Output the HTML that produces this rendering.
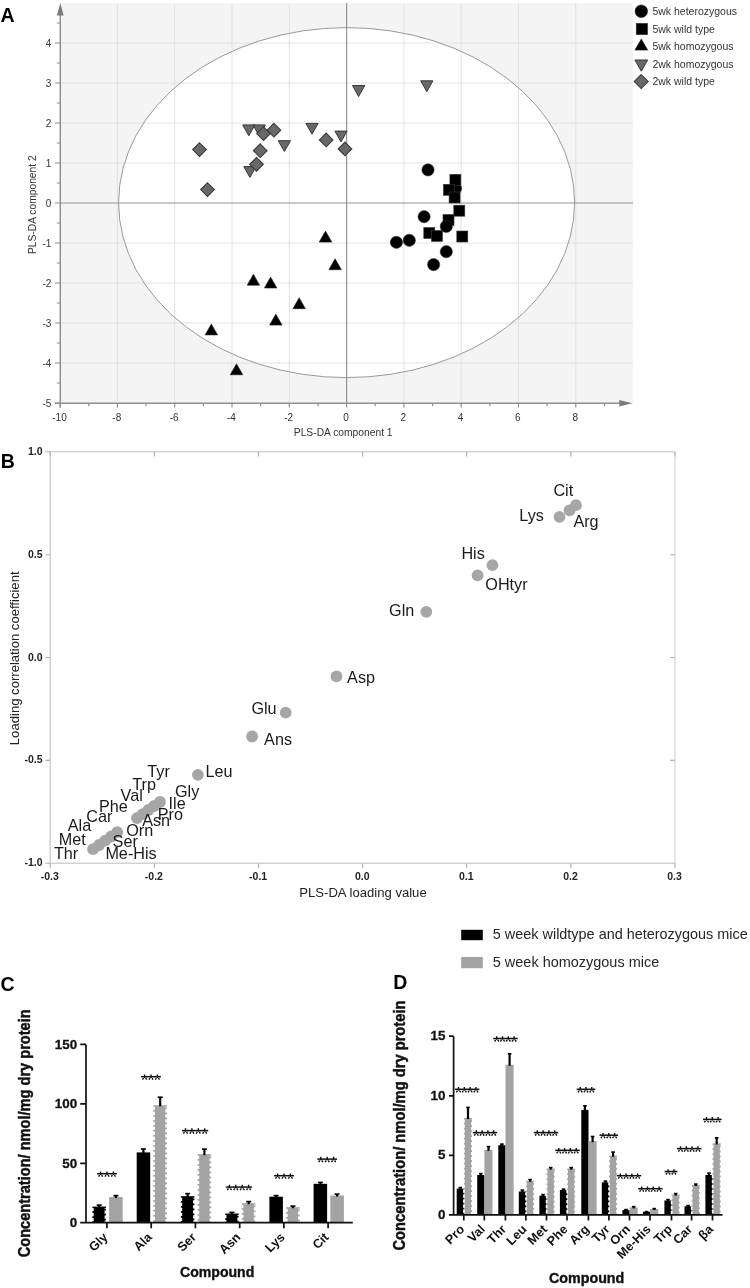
<!DOCTYPE html>
<html><head><meta charset="utf-8"><style>
html,body{margin:0;padding:0;background:#fff;}
body{width:750px;height:1288px;overflow:hidden;position:relative;}
svg{position:absolute;left:0;top:0;display:block;filter:grayscale(100%);}
</style></head><body>
<svg width="750" height="1288" viewBox="0 0 750 1288">
<rect x="60.3" y="3.0" width="572.7" height="400.2" fill="#f4f4f4"/>
<ellipse cx="346.6" cy="202.6" rx="228" ry="175" fill="#ffffff"/>
<path d="M117.4 3.0V403.2M174.7 3.0V403.2M232.0 3.0V403.2M289.3 3.0V403.2M403.9 3.0V403.2M461.2 3.0V403.2M518.5 3.0V403.2M575.8 3.0V403.2M60.3 43.0H633.0M60.3 83.0H633.0M60.3 123.0H633.0M60.3 163.0H633.0M60.3 243.0H633.0M60.3 283.0H633.0M60.3 323.0H633.0M60.3 363.0H633.0" stroke="#e2e2e2" stroke-width="1" fill="none"/>
<ellipse cx="346.6" cy="202.6" rx="228" ry="175" fill="none" stroke="#999" stroke-width="1"/>
<path d="M346.6 3.0V403.2M60.3 203.0H633.0" stroke="#939393" stroke-width="1.2" fill="none"/>
<path d="M60.3 14V407.6M55 403.2H621" stroke="#909090" stroke-width="1.5" fill="none"/>
<polygon points="60.3,3 56.9,15.6 63.699999999999996,15.6" fill="#7a7a7a"/>
<polygon points="632.3,403.2 619.3,400.0 619.3,406.4" fill="#7a7a7a"/>
<path d="M55 403.0H60.3M56.8 383.0H60.3M55 363.0H60.3M56.8 343.0H60.3M55 323.0H60.3M56.8 303.0H60.3M55 283.0H60.3M56.8 263.0H60.3M55 243.0H60.3M56.8 223.0H60.3M55 203.0H60.3M56.8 183.0H60.3M55 163.0H60.3M56.8 143.0H60.3M55 123.0H60.3M56.8 103.0H60.3M55 83.0H60.3M56.8 63.0H60.3M55 43.0H60.3M56.8 23.0H60.3M60.1 403.2V407.6M88.8 403.2V406.2M117.4 403.2V407.6M146.1 403.2V406.2M174.7 403.2V407.6M203.4 403.2V406.2M232.0 403.2V407.6M260.7 403.2V406.2M289.3 403.2V407.6M318.0 403.2V406.2M346.6 403.2V407.6M375.2 403.2V406.2M403.9 403.2V407.6M432.6 403.2V406.2M461.2 403.2V407.6M489.9 403.2V406.2M518.5 403.2V407.6M547.1 403.2V406.2M575.8 403.2V407.6M604.5 403.2V406.2" stroke="#909090" stroke-width="1.2" fill="none"/>
<g font-family='"Liberation Sans", sans-serif' font-size="10" fill="#333">
<text x="51.3" y="407.2" text-anchor="end">-5</text>
<text x="51.3" y="367.2" text-anchor="end">-4</text>
<text x="51.3" y="327.2" text-anchor="end">-3</text>
<text x="51.3" y="287.2" text-anchor="end">-2</text>
<text x="51.3" y="247.2" text-anchor="end">-1</text>
<text x="51.3" y="207.2" text-anchor="end">0</text>
<text x="51.3" y="167.2" text-anchor="end">1</text>
<text x="51.3" y="127.2" text-anchor="end">2</text>
<text x="51.3" y="87.2" text-anchor="end">3</text>
<text x="51.3" y="47.2" text-anchor="end">4</text>
<text x="59.5" y="420.9" text-anchor="middle">-10</text>
<text x="116.8" y="420.9" text-anchor="middle">-8</text>
<text x="174.1" y="420.9" text-anchor="middle">-6</text>
<text x="231.4" y="420.9" text-anchor="middle">-4</text>
<text x="288.7" y="420.9" text-anchor="middle">-2</text>
<text x="346.0" y="420.9" text-anchor="middle">0</text>
<text x="403.3" y="420.9" text-anchor="middle">2</text>
<text x="460.6" y="420.9" text-anchor="middle">4</text>
<text x="517.9" y="420.9" text-anchor="middle">6</text>
<text x="575.2" y="420.9" text-anchor="middle">8</text>
</g>
<text x="293.8" y="435.8" font-family='"Liberation Sans", sans-serif' font-size="10.3" fill="#333" textLength="98.8" lengthAdjust="spacingAndGlyphs">PLS-DA component 1</text>
<text transform="translate(36.3,254.1) rotate(-90)" x="0" y="0" font-family='"Liberation Sans", sans-serif' font-size="10.4" fill="#333" textLength="98.8" lengthAdjust="spacingAndGlyphs">PLS-DA component 2</text>
<text x="0.5" y="22" font-family='"Liberation Sans", sans-serif' font-size="19.5" font-weight="bold" fill="#000">A</text>
<polygon points="242.7,124.9 255.0,124.9 248.8,135.8" fill="#686868" stroke="#383838" stroke-width="1.0" stroke-linejoin="round"/>
<polygon points="253.0,124.9 265.3,124.9 259.2,135.8" fill="#686868" stroke="#383838" stroke-width="1.0" stroke-linejoin="round"/>
<polygon points="243.8,166.6 256.1,166.6 249.9,177.4" fill="#686868" stroke="#383838" stroke-width="1.0" stroke-linejoin="round"/>
<polygon points="278.2,140.7 290.5,140.7 284.4,151.5" fill="#686868" stroke="#383838" stroke-width="1.0" stroke-linejoin="round"/>
<polygon points="305.9,123.4 318.1,123.4 312.0,134.2" fill="#686868" stroke="#383838" stroke-width="1.0" stroke-linejoin="round"/>
<polygon points="334.9,131.1 347.1,131.1 341.0,141.9" fill="#686868" stroke="#383838" stroke-width="1.0" stroke-linejoin="round"/>
<polygon points="352.5,85.5 364.8,85.5 358.6,96.5" fill="#686868" stroke="#383838" stroke-width="1.0" stroke-linejoin="round"/>
<polygon points="420.7,80.8 432.9,80.8 426.8,91.7" fill="#686868" stroke="#383838" stroke-width="1.0" stroke-linejoin="round"/>
<polygon points="199.5,142.75000000000003 206.35,149.60000000000002 199.5,156.45000000000002 192.65,149.60000000000002" fill="#686868" stroke="#383838" stroke-width="1.05"/>
<polygon points="207.5,182.75000000000003 214.35,189.60000000000002 207.5,196.45000000000002 200.65,189.60000000000002" fill="#686868" stroke="#383838" stroke-width="1.05"/>
<polygon points="263.5,126.75000000000003 270.35,133.60000000000002 263.5,140.45000000000002 256.65,133.60000000000002" fill="#686868" stroke="#383838" stroke-width="1.05"/>
<polygon points="273.9,123.35000000000002 280.75,130.20000000000002 273.9,137.05 267.04999999999995,130.20000000000002" fill="#686868" stroke="#383838" stroke-width="1.05"/>
<polygon points="260.2,143.85000000000002 267.05,150.70000000000002 260.2,157.55 253.35,150.70000000000002" fill="#686868" stroke="#383838" stroke-width="1.05"/>
<polygon points="256.5,157.45000000000002 263.35,164.3 256.5,171.15 249.65,164.3" fill="#686868" stroke="#383838" stroke-width="1.05"/>
<polygon points="326.2,133.05 333.05,139.9 326.2,146.75 319.34999999999997,139.9" fill="#686868" stroke="#383838" stroke-width="1.05"/>
<polygon points="345,142.05 351.85,148.9 345,155.75 338.15,148.9" fill="#686868" stroke="#383838" stroke-width="1.05"/>
<polygon points="319.2,242.1 331.8,242.1 325.5,231.1" fill="#000" stroke="#222" stroke-width="0.6"/>
<polygon points="328.9,269.7 341.4,269.7 335.1,258.7" fill="#000" stroke="#222" stroke-width="0.6"/>
<polygon points="247.2,285.2 259.6,285.2 253.4,274.2" fill="#000" stroke="#222" stroke-width="0.6"/>
<polygon points="264.4,288.0 276.9,288.0 270.6,277.0" fill="#000" stroke="#222" stroke-width="0.6"/>
<polygon points="292.9,308.7 305.4,308.7 299.2,297.7" fill="#000" stroke="#222" stroke-width="0.6"/>
<polygon points="269.6,325.1 282.1,325.1 275.8,314.1" fill="#000" stroke="#222" stroke-width="0.6"/>
<polygon points="205.1,334.9 217.6,334.9 211.3,323.9" fill="#000" stroke="#222" stroke-width="0.6"/>
<polygon points="230.2,374.8 242.8,374.8 236.5,363.8" fill="#000" stroke="#222" stroke-width="0.6"/>
<circle cx="455.5" cy="188.5" r="6.1" fill="#000" stroke="#333" stroke-width="0.6"/>
<rect x="449.9" y="174.3" width="11" height="11" fill="#000" stroke="#3a3a3a" stroke-width="0.6"/>
<rect x="443.4" y="184.3" width="11" height="11" fill="#000" stroke="#3a3a3a" stroke-width="0.6"/>
<rect x="449.1" y="192.0" width="11" height="11" fill="#000" stroke="#3a3a3a" stroke-width="0.6"/>
<rect x="453.8" y="205.2" width="11" height="11" fill="#000" stroke="#3a3a3a" stroke-width="0.6"/>
<rect x="443.0" y="214.5" width="11" height="11" fill="#000" stroke="#3a3a3a" stroke-width="0.6"/>
<rect x="423.8" y="227.5" width="11" height="11" fill="#000" stroke="#3a3a3a" stroke-width="0.6"/>
<rect x="431.5" y="230.4" width="11" height="11" fill="#000" stroke="#3a3a3a" stroke-width="0.6"/>
<rect x="456.8" y="231.0" width="11" height="11" fill="#000" stroke="#3a3a3a" stroke-width="0.6"/>
<circle cx="428" cy="169.9" r="6.1" fill="#000" stroke="#333" stroke-width="0.6"/>
<circle cx="424.1" cy="216.7" r="6.1" fill="#000" stroke="#333" stroke-width="0.6"/>
<circle cx="446.3" cy="226.4" r="6.1" fill="#000" stroke="#333" stroke-width="0.6"/>
<circle cx="409.3" cy="240.3" r="6.1" fill="#000" stroke="#333" stroke-width="0.6"/>
<circle cx="396.4" cy="242.3" r="6.1" fill="#000" stroke="#333" stroke-width="0.6"/>
<circle cx="446.3" cy="251.7" r="6.1" fill="#000" stroke="#333" stroke-width="0.6"/>
<circle cx="433.6" cy="264.6" r="6.1" fill="#000" stroke="#333" stroke-width="0.6"/>
<circle cx="641.3" cy="11.2" r="6.3" fill="#000" stroke="#333" stroke-width="0.6"/>
<rect x="636.2" y="23.3" width="11.4" height="11.4" fill="#000" stroke="#3a3a3a" stroke-width="0.6"/>
<polygon points="634.9,50.1 647.7,50.1 641.3,38.9" fill="#000" stroke="#222" stroke-width="0.6"/>
<polygon points="634.9,60.0 647.7,60.0 641.3,71.2" fill="#686868" stroke="#383838" stroke-width="1.0" stroke-linejoin="round"/>
<polygon points="641.2,74.5 648.2,81.5 641.2,88.5 634.2,81.5" fill="#686868" stroke="#383838" stroke-width="1.05"/>
<g font-family='"Liberation Sans", sans-serif' font-size="10.5" fill="#333">
<text x="652.4" y="15.2">5wk heterozygous</text>
<text x="652.4" y="32.8">5wk wild type</text>
<text x="652.4" y="50.1">5wk homozygous</text>
<text x="652.4" y="67.9">2wk homozygous</text>
<text x="652.4" y="85.0">2wk wild type</text>
</g>
<text x="0.8" y="467.6" font-family='"Liberation Sans", sans-serif' font-size="19.5" font-weight="bold" fill="#000">B</text>
<path d="M50.2 451.8H675.0" stroke="#d6d6d6" stroke-width="1.5"/>
<path d="M675.0 451.8V863.2" stroke="#d4d4d4" stroke-width="1.1"/>
<path d="M50.2 451.1V863.9M49.5 863.2H675.5" stroke="#d2d2d2" stroke-width="1.5"/>
<path d="M45.4 863.2H50.2M45.4 760.4H50.2M670.2 760.4H675.0M45.4 657.5H50.2M670.2 657.5H675.0M45.4 554.7H50.2M670.2 554.7H675.0M45.4 451.8H50.2M50.2 863.2V868.0M50.2 451.8V456.6M154.3 863.2V868.0M154.3 451.8V456.6M258.5 863.2V868.0M258.5 451.8V456.6M362.6 863.2V868.0M362.6 451.8V456.6M466.7 863.2V868.0M466.7 451.8V456.6M570.9 863.2V868.0M570.9 451.8V456.6M675.0 863.2V868.0M675.0 451.8V456.6" stroke="#b0b0b0" stroke-width="1.1" fill="none"/>
<g font-family='"Liberation Sans", sans-serif' font-size="10.5" font-weight="bold" fill="#222">
<text x="42.5" y="866.2" text-anchor="end">-1.0</text>
<text x="42.5" y="763.4" text-anchor="end">-0.5</text>
<text x="42.5" y="660.5" text-anchor="end">0.0</text>
<text x="42.5" y="557.7" text-anchor="end">0.5</text>
<text x="42.5" y="454.8" text-anchor="end">1.0</text>
<text x="49.8" y="879.6" text-anchor="middle">-0.3</text>
<text x="153.9" y="879.6" text-anchor="middle">-0.2</text>
<text x="258.1" y="879.6" text-anchor="middle">-0.1</text>
<text x="362.2" y="879.6" text-anchor="middle">0.0</text>
<text x="466.3" y="879.6" text-anchor="middle">0.1</text>
<text x="570.5" y="879.6" text-anchor="middle">0.2</text>
<text x="674.6" y="879.6" text-anchor="middle">0.3</text>
</g>
<text x="363" y="896.5" font-family='"Liberation Sans", sans-serif' font-size="13.1" fill="#222" text-anchor="middle">PLS-DA loading value</text>
<text transform="translate(19.2,658.3) rotate(-90)" x="0" y="0" font-family='"Liberation Sans", sans-serif' font-size="13.1" fill="#222" text-anchor="middle">Loading correlation coefficient</text>
<g fill="#a6a6a6">
<circle cx="559.5" cy="516.9" r="5.9"/>
<circle cx="569.6" cy="510.3" r="5.9"/>
<circle cx="576.0" cy="505.2" r="5.9"/>
<circle cx="492.4" cy="565.1" r="5.9"/>
<circle cx="477.6" cy="575.4" r="5.9"/>
<circle cx="426.3" cy="611.8" r="5.9"/>
<circle cx="336.5" cy="676.4" r="5.9"/>
<circle cx="285.7" cy="712.6" r="5.9"/>
<circle cx="252.1" cy="736.5" r="5.9"/>
<circle cx="197.9" cy="774.8" r="5.9"/>
<circle cx="136.9" cy="818.1" r="5.9"/>
<circle cx="142.7" cy="814.1" r="5.9"/>
<circle cx="148.4" cy="810.0" r="5.9"/>
<circle cx="154.2" cy="806.0" r="5.9"/>
<circle cx="160.0" cy="802.0" r="5.9"/>
<circle cx="93.1" cy="849.2" r="5.9"/>
<circle cx="99.1" cy="845.0" r="5.9"/>
<circle cx="105.2" cy="840.7" r="5.9"/>
<circle cx="111.2" cy="836.5" r="5.9"/>
<circle cx="117.2" cy="832.2" r="5.9"/>
</g>
<g font-family='"Liberation Sans", sans-serif' font-size="16.2" fill="#1a1a1a">
<text x="553.4" y="495.8">Cit</text>
<text x="519.3" y="521.4">Lys</text>
<text x="573.4" y="527.0">Arg</text>
<text x="461.4" y="558.8">His</text>
<text x="485.3" y="589.9">OHtyr</text>
<text x="389.1" y="616.1">Gln</text>
<text x="347.1" y="683.0">Asp</text>
<text x="251.4" y="714.3">Glu</text>
<text x="264.1" y="744.6">Ans</text>
<text x="205.4" y="777.1">Leu</text>
<text x="147.3" y="777.4">Tyr</text>
<text x="132.3" y="790.2">Trp</text>
<text x="120.6" y="800.6">Val</text>
<text x="175.0" y="797.1">Gly</text>
<text x="168.6" y="809.4">Ile</text>
<text x="157.7" y="820.1">Pro</text>
<text x="142.2" y="826.2">Asn</text>
<text x="126.2" y="836.4">Orn</text>
<text x="99.0" y="811.8">Phe</text>
<text x="86.2" y="822.2">Car</text>
<text x="67.8" y="831.0">Ala</text>
<text x="58.7" y="844.6">Met</text>
<text x="53.9" y="859.0">Thr</text>
<text x="112.6" y="846.5">Ser</text>
<text x="105.4" y="859.0">Me-His</text>
</g>
<text x="0.6" y="991.3" font-family='"Liberation Sans", sans-serif' font-size="19.5" font-weight="bold" fill="#000">C</text>
<text transform="translate(30.1,1257.3) rotate(-90)" font-family='"Liberation Sans", sans-serif' font-size="16" font-weight="bold" fill="#111" stroke="#111" stroke-width="0.45" textLength="248" lengthAdjust="spacingAndGlyphs">Concentration/ nmol/mg dry protein</text>
<rect x="92.4" y="1206.6" width="13.5" height="16.1" fill="#000"/><path d="M92.65 1208.1V1221.7" stroke="#fff" stroke-width="2.1" stroke-dasharray="3.2 1.8" stroke-dashoffset="0.0"/><path d="M105.65 1208.1V1221.7" stroke="#fff" stroke-width="2.1" stroke-dasharray="3.2 1.8" stroke-dashoffset="2.5"/>
<rect x="109.1" y="1197" width="13.6" height="25.7" fill="#a3a3a3"/>
<path d="M99.2 1207.6V1205.3" stroke="#000" stroke-width="2.2"/><path d="M96.7 1205.1H101.7" stroke="#000" stroke-width="1.6"/>
<path d="M115.9 1198.0V1195.8" stroke="#000" stroke-width="2.2"/><path d="M113.4 1195.6H118.4" stroke="#000" stroke-width="1.6"/>
<rect x="136.7" y="1152.4" width="13.5" height="70.3" fill="#000"/>
<rect x="153.3" y="1105.3" width="13.6" height="117.4" fill="#a3a3a3"/><path d="M153.75 1106.8V1221.7" stroke="#fff" stroke-width="2.4" stroke-dasharray="3.2 1.8" stroke-dashoffset="0.0"/><path d="M166.55 1106.8V1221.7" stroke="#fff" stroke-width="2.4" stroke-dasharray="3.2 1.8" stroke-dashoffset="2.5"/>
<path d="M143.4 1153.4V1149.2" stroke="#000" stroke-width="2.2"/><path d="M140.9 1149.0H145.9" stroke="#000" stroke-width="1.6"/>
<path d="M160.2 1106.3V1097.4" stroke="#000" stroke-width="2.2"/><path d="M157.7 1097.2H162.7" stroke="#000" stroke-width="1.6"/>
<rect x="180.9" y="1196.2" width="13.5" height="26.5" fill="#000"/><path d="M181.15 1197.7V1221.7" stroke="#fff" stroke-width="2.1" stroke-dasharray="3.2 1.8" stroke-dashoffset="0.0"/><path d="M194.15 1197.7V1221.7" stroke="#fff" stroke-width="2.1" stroke-dasharray="3.2 1.8" stroke-dashoffset="2.5"/>
<rect x="197.6" y="1154.2" width="13.6" height="68.5" fill="#a3a3a3"/><path d="M198.00 1155.7V1221.7" stroke="#fff" stroke-width="2.4" stroke-dasharray="3.2 1.8" stroke-dashoffset="0.0"/><path d="M210.80 1155.7V1221.7" stroke="#fff" stroke-width="2.4" stroke-dasharray="3.2 1.8" stroke-dashoffset="2.5"/>
<path d="M187.7 1197.2V1193.8" stroke="#000" stroke-width="2.2"/><path d="M185.2 1193.6H190.2" stroke="#000" stroke-width="1.6"/>
<path d="M204.4 1155.2V1149.3" stroke="#000" stroke-width="2.2"/><path d="M201.9 1149.1H206.9" stroke="#000" stroke-width="1.6"/>
<rect x="225.2" y="1213.5" width="13.5" height="9.2" fill="#000"/><path d="M225.40 1215.0V1221.7" stroke="#fff" stroke-width="2.1" stroke-dasharray="3.2 1.8" stroke-dashoffset="0.0"/><path d="M238.40 1215.0V1221.7" stroke="#fff" stroke-width="2.1" stroke-dasharray="3.2 1.8" stroke-dashoffset="2.5"/>
<rect x="241.8" y="1203.2" width="13.6" height="19.5" fill="#a3a3a3"/><path d="M242.25 1204.7V1221.7" stroke="#fff" stroke-width="2.4" stroke-dasharray="3.2 1.8" stroke-dashoffset="0.0"/><path d="M255.05 1204.7V1221.7" stroke="#fff" stroke-width="2.4" stroke-dasharray="3.2 1.8" stroke-dashoffset="2.5"/>
<path d="M231.9 1214.5V1212.6" stroke="#000" stroke-width="2.2"/><path d="M229.4 1212.4H234.4" stroke="#000" stroke-width="1.6"/>
<path d="M248.7 1204.2V1201.8" stroke="#000" stroke-width="2.2"/><path d="M246.2 1201.6H251.2" stroke="#000" stroke-width="1.6"/>
<rect x="269.4" y="1196.7" width="13.5" height="26.0" fill="#000"/>
<rect x="286.1" y="1207.2" width="13.6" height="15.5" fill="#a3a3a3"/><path d="M286.50 1208.7V1221.7" stroke="#fff" stroke-width="2.4" stroke-dasharray="3.2 1.8" stroke-dashoffset="0.0"/><path d="M299.30 1208.7V1221.7" stroke="#fff" stroke-width="2.4" stroke-dasharray="3.2 1.8" stroke-dashoffset="2.5"/>
<path d="M276.1 1197.7V1195.8" stroke="#000" stroke-width="2.2"/><path d="M273.6 1195.6H278.6" stroke="#000" stroke-width="1.6"/>
<path d="M292.9 1208.2V1206.3" stroke="#000" stroke-width="2.2"/><path d="M290.4 1206.1H295.4" stroke="#000" stroke-width="1.6"/>
<rect x="313.6" y="1183.8" width="13.5" height="38.9" fill="#000"/>
<rect x="330.3" y="1195.5" width="13.6" height="27.2" fill="#a3a3a3"/>
<path d="M320.4 1184.8V1182.6" stroke="#000" stroke-width="2.2"/><path d="M317.9 1182.4H322.9" stroke="#000" stroke-width="1.6"/>
<path d="M337.1 1196.5V1194.3" stroke="#000" stroke-width="2.2"/><path d="M334.6 1194.1H339.6" stroke="#000" stroke-width="1.6"/>
<path d="M86 1044.4V1222.7M85 1222.7H352.8M80.2 1222.7H86M80.2 1163.3H86M80.2 1103.8H86M80.2 1044.4H86M106.9 1222.7V1228.3M151.2 1222.7V1228.3M195.4 1222.7V1228.3M239.7 1222.7V1228.3M283.9 1222.7V1228.3M328.1 1222.7V1228.3" stroke="#111" stroke-width="1.7" fill="none"/>
<g font-family='"Liberation Sans", sans-serif' font-size="13.4" font-weight="bold" fill="#111" stroke="#111" stroke-width="0.3" text-anchor="end">
<text x="77.2" y="1227.3">0</text>
<text x="77.2" y="1167.9">50</text>
<text x="77.2" y="1108.4">100</text>
<text x="77.2" y="1049.0">150</text>
</g>
<path d="M97.1 1173.7H116.9" stroke="#111" stroke-width="1.5" fill="none"/><path d="M100.6 1171.4V1174.9M99.6 1175.1L98.5 1176.7M101.6 1175.1L102.7 1176.7M107.0 1171.4V1174.9M106.0 1175.1L104.9 1176.7M108.0 1175.1L109.1 1176.7M113.4 1171.4V1174.9M112.4 1175.1L111.3 1176.7M114.4 1175.1L115.5 1176.7" stroke="#111" stroke-width="1.4" fill="none"/>
<path d="M141.1 1076.7H160.9" stroke="#111" stroke-width="1.5" fill="none"/><path d="M144.6 1074.4V1077.9M143.6 1078.1L142.5 1079.7M145.6 1078.1L146.7 1079.7M151.0 1074.4V1077.9M150.0 1078.1L148.9 1079.7M152.0 1078.1L153.1 1079.7M157.4 1074.4V1077.9M156.4 1078.1L155.3 1079.7M158.4 1078.1L159.5 1079.7" stroke="#111" stroke-width="1.4" fill="none"/>
<path d="M182.0 1130.6H208.2" stroke="#111" stroke-width="1.5" fill="none"/><path d="M185.5 1128.3V1131.8M184.5 1132.0L183.4 1133.6M186.5 1132.0L187.6 1133.6M191.9 1128.3V1131.8M190.9 1132.0L189.8 1133.6M192.9 1132.0L194.0 1133.6M198.3 1128.3V1131.8M197.3 1132.0L196.2 1133.6M199.3 1132.0L200.4 1133.6M204.7 1128.3V1131.8M203.7 1132.0L202.6 1133.6M205.7 1132.0L206.8 1133.6" stroke="#111" stroke-width="1.4" fill="none"/>
<path d="M225.9 1187.1H252.1" stroke="#111" stroke-width="1.5" fill="none"/><path d="M229.4 1184.8V1188.3M228.4 1188.5L227.3 1190.1M230.4 1188.5L231.5 1190.1M235.8 1184.8V1188.3M234.8 1188.5L233.7 1190.1M236.8 1188.5L237.9 1190.1M242.2 1184.8V1188.3M241.2 1188.5L240.1 1190.1M243.2 1188.5L244.3 1190.1M248.6 1184.8V1188.3M247.6 1188.5L246.5 1190.1M249.6 1188.5L250.7 1190.1" stroke="#111" stroke-width="1.4" fill="none"/>
<path d="M274.1 1175.7H293.9" stroke="#111" stroke-width="1.5" fill="none"/><path d="M277.6 1173.4V1176.9M276.6 1177.1L275.5 1178.7M278.6 1177.1L279.7 1178.7M284.0 1173.4V1176.9M283.0 1177.1L281.9 1178.7M285.0 1177.1L286.1 1178.7M290.4 1173.4V1176.9M289.4 1177.1L288.3 1178.7M291.4 1177.1L292.5 1178.7" stroke="#111" stroke-width="1.4" fill="none"/>
<path d="M317.3 1159.1H337.1" stroke="#111" stroke-width="1.5" fill="none"/><path d="M320.8 1156.8V1160.3M319.8 1160.5L318.7 1162.1M321.8 1160.5L322.9 1162.1M327.2 1156.8V1160.3M326.2 1160.5L325.1 1162.1M328.2 1160.5L329.3 1162.1M333.6 1156.8V1160.3M332.6 1160.5L331.5 1162.1M334.6 1160.5L335.7 1162.1" stroke="#111" stroke-width="1.4" fill="none"/>
<g font-family='"Liberation Sans", sans-serif' font-size="12.7" font-weight="bold" fill="#111" text-anchor="end">
<text transform="translate(108.4,1237.9) rotate(-45)">Gly</text>
<text transform="translate(152.7,1237.9) rotate(-45)">Ala</text>
<text transform="translate(196.9,1237.9) rotate(-45)">Ser</text>
<text transform="translate(241.2,1237.9) rotate(-45)">Asn</text>
<text transform="translate(285.4,1237.9) rotate(-45)">Lys</text>
<text transform="translate(329.6,1237.9) rotate(-45)">Cit</text>
</g>
<text x="180" y="1276.6" font-family='"Liberation Sans", sans-serif' font-size="15.2" font-weight="bold" fill="#111" stroke="#111" stroke-width="0.4" textLength="74.3" lengthAdjust="spacingAndGlyphs">Compound</text>
<text x="393.2" y="988.7" font-family='"Liberation Sans", sans-serif' font-size="19.5" font-weight="bold" fill="#000">D</text>
<rect x="461.2" y="929.8" width="21.6" height="10.4" fill="#000"/>
<rect x="461.2" y="957" width="21.6" height="11.2" fill="#a3a3a3"/>
<text x="492.8" y="939.2" font-family='"Liberation Sans", sans-serif' font-size="14.2" fill="#262626" textLength="255" lengthAdjust="spacingAndGlyphs">5 week wildtype and heterozygous mice</text>
<text x="492.8" y="967.2" font-family='"Liberation Sans", sans-serif' font-size="14.2" fill="#262626" textLength="166.4" lengthAdjust="spacingAndGlyphs">5 week homozygous mice</text>
<text transform="translate(405,1250.5) rotate(-90)" font-family='"Liberation Sans", sans-serif' font-size="16" font-weight="bold" fill="#111" stroke="#111" stroke-width="0.45" textLength="250" lengthAdjust="spacingAndGlyphs">Concentration/ nmol/mg dry protein</text>
<rect x="456.7" y="1188.7" width="7.2" height="26.2" fill="#000"/>
<rect x="463.9" y="1118.0" width="8.1" height="96.9" fill="#a3a3a3"/><path d="M463.95 1119.5V1213.9" stroke="#fff" stroke-width="1.7" stroke-dasharray="3.2 1.8" stroke-dashoffset="0.0"/><path d="M471.95 1119.5V1213.9" stroke="#fff" stroke-width="1.7" stroke-dasharray="3.2 1.8" stroke-dashoffset="2.5"/>
<path d="M460.3 1189.7V1187.8" stroke="#000" stroke-width="2.2"/><path d="M458.5 1187.6H462.1" stroke="#000" stroke-width="1.6"/>
<path d="M468.0 1119.0V1107.6" stroke="#000" stroke-width="2.2"/><path d="M466.2 1107.4H469.8" stroke="#000" stroke-width="1.6"/>
<rect x="477.2" y="1175" width="7.2" height="39.9" fill="#000"/>
<rect x="484.4" y="1149.9" width="8.1" height="65.0" fill="#a3a3a3"/>
<path d="M480.8 1176.0V1173.8" stroke="#000" stroke-width="2.2"/><path d="M479.0 1173.6H482.6" stroke="#000" stroke-width="1.6"/>
<path d="M488.5 1150.9V1146.8" stroke="#000" stroke-width="2.2"/><path d="M486.7 1146.6H490.3" stroke="#000" stroke-width="1.6"/>
<rect x="498.3" y="1145.2" width="7.2" height="69.7" fill="#000"/>
<rect x="505.5" y="1064.8" width="8.1" height="150.1" fill="#a3a3a3"/>
<path d="M501.9 1146.2V1144.3" stroke="#000" stroke-width="2.2"/><path d="M500.1 1144.1H503.7" stroke="#000" stroke-width="1.6"/>
<path d="M509.6 1065.8V1054.0" stroke="#000" stroke-width="2.2"/><path d="M507.8 1053.8H511.4" stroke="#000" stroke-width="1.6"/>
<rect x="518.8" y="1191.5" width="7.2" height="23.4" fill="#000"/>
<rect x="526.0" y="1180.8" width="8.1" height="34.1" fill="#a3a3a3"/><path d="M526.05 1182.3V1213.9" stroke="#fff" stroke-width="1.7" stroke-dasharray="3.2 1.8" stroke-dashoffset="0.0"/><path d="M534.05 1182.3V1213.9" stroke="#fff" stroke-width="1.7" stroke-dasharray="3.2 1.8" stroke-dashoffset="2.5"/>
<path d="M522.4 1192.5V1190.3" stroke="#000" stroke-width="2.2"/><path d="M520.6 1190.1H524.2" stroke="#000" stroke-width="1.6"/>
<path d="M530.1 1181.8V1179.8" stroke="#000" stroke-width="2.2"/><path d="M528.3 1179.6H531.9" stroke="#000" stroke-width="1.6"/>
<rect x="539.4" y="1195.7" width="7.2" height="19.2" fill="#000"/>
<rect x="546.6" y="1168.6" width="8.1" height="46.3" fill="#a3a3a3"/><path d="M546.65 1170.1V1213.9" stroke="#fff" stroke-width="1.7" stroke-dasharray="3.2 1.8" stroke-dashoffset="0.0"/><path d="M554.65 1170.1V1213.9" stroke="#fff" stroke-width="1.7" stroke-dasharray="3.2 1.8" stroke-dashoffset="2.5"/>
<path d="M543.0 1196.7V1194.8" stroke="#000" stroke-width="2.2"/><path d="M541.2 1194.6H544.8" stroke="#000" stroke-width="1.6"/>
<path d="M550.7 1169.6V1167.8" stroke="#000" stroke-width="2.2"/><path d="M548.9 1167.6H552.5" stroke="#000" stroke-width="1.6"/>
<rect x="559.9" y="1190" width="7.2" height="24.9" fill="#000"/>
<rect x="567.1" y="1168.6" width="8.1" height="46.3" fill="#a3a3a3"/><path d="M567.15 1170.1V1213.9" stroke="#fff" stroke-width="1.7" stroke-dasharray="3.2 1.8" stroke-dashoffset="0.0"/><path d="M575.15 1170.1V1213.9" stroke="#fff" stroke-width="1.7" stroke-dasharray="3.2 1.8" stroke-dashoffset="2.5"/>
<path d="M563.5 1191.0V1189.3" stroke="#000" stroke-width="2.2"/><path d="M561.7 1189.1H565.3" stroke="#000" stroke-width="1.6"/>
<path d="M571.2 1169.6V1167.8" stroke="#000" stroke-width="2.2"/><path d="M569.4 1167.6H573.0" stroke="#000" stroke-width="1.6"/>
<rect x="581.3" y="1109.9" width="7.2" height="105.0" fill="#000"/>
<rect x="588.5" y="1141.2" width="8.1" height="73.7" fill="#a3a3a3"/>
<path d="M584.9 1110.9V1106.0" stroke="#000" stroke-width="2.2"/><path d="M583.1 1105.8H586.7" stroke="#000" stroke-width="1.6"/>
<path d="M592.6 1142.2V1136.7" stroke="#000" stroke-width="2.2"/><path d="M590.8 1136.5H594.4" stroke="#000" stroke-width="1.6"/>
<rect x="601.8" y="1182.4" width="7.2" height="32.5" fill="#000"/>
<rect x="609.0" y="1155.7" width="8.1" height="59.2" fill="#a3a3a3"/><path d="M609.05 1157.2V1213.9" stroke="#fff" stroke-width="1.7" stroke-dasharray="3.2 1.8" stroke-dashoffset="0.0"/><path d="M617.05 1157.2V1213.9" stroke="#fff" stroke-width="1.7" stroke-dasharray="3.2 1.8" stroke-dashoffset="2.5"/>
<path d="M605.4 1183.4V1181.3" stroke="#000" stroke-width="2.2"/><path d="M603.6 1181.1H607.2" stroke="#000" stroke-width="1.6"/>
<path d="M613.1 1156.7V1152.3" stroke="#000" stroke-width="2.2"/><path d="M611.3 1152.1H614.9" stroke="#000" stroke-width="1.6"/>
<rect x="622.4" y="1210.1" width="7.2" height="4.8" fill="#000"/>
<rect x="629.6" y="1207.4" width="8.1" height="7.5" fill="#a3a3a3"/>
<path d="M626.0 1211.1V1209.8" stroke="#000" stroke-width="2.2"/><path d="M624.2 1209.6H627.8" stroke="#000" stroke-width="1.6"/>
<path d="M633.7 1208.4V1206.8" stroke="#000" stroke-width="2.2"/><path d="M631.9 1206.6H635.5" stroke="#000" stroke-width="1.6"/>
<rect x="642.9" y="1211.8" width="7.2" height="3.1" fill="#000"/>
<rect x="650.1" y="1209" width="8.1" height="5.9" fill="#a3a3a3"/>
<path d="M646.5 1212.8V1211.8" stroke="#000" stroke-width="2.2"/><path d="M644.7 1211.6H648.3" stroke="#000" stroke-width="1.6"/>
<path d="M654.2 1210.0V1208.8" stroke="#000" stroke-width="2.2"/><path d="M652.4 1208.6H656.0" stroke="#000" stroke-width="1.6"/>
<rect x="664.4" y="1200.5" width="7.2" height="14.4" fill="#000"/>
<rect x="671.6" y="1194.6" width="8.1" height="20.3" fill="#a3a3a3"/><path d="M671.65 1196.1V1213.9" stroke="#fff" stroke-width="1.7" stroke-dasharray="3.2 1.8" stroke-dashoffset="0.0"/><path d="M679.65 1196.1V1213.9" stroke="#fff" stroke-width="1.7" stroke-dasharray="3.2 1.8" stroke-dashoffset="2.5"/>
<path d="M668.0 1201.5V1199.8" stroke="#000" stroke-width="2.2"/><path d="M666.2 1199.6H669.8" stroke="#000" stroke-width="1.6"/>
<path d="M675.7 1195.6V1193.8" stroke="#000" stroke-width="2.2"/><path d="M673.9 1193.6H677.5" stroke="#000" stroke-width="1.6"/>
<rect x="684.5" y="1206.3" width="7.2" height="8.6" fill="#000"/>
<rect x="691.7" y="1185.0" width="8.1" height="29.9" fill="#a3a3a3"/><path d="M691.75 1186.5V1213.9" stroke="#fff" stroke-width="1.7" stroke-dasharray="3.2 1.8" stroke-dashoffset="0.0"/><path d="M699.75 1186.5V1213.9" stroke="#fff" stroke-width="1.7" stroke-dasharray="3.2 1.8" stroke-dashoffset="2.5"/>
<path d="M688.1 1207.3V1205.8" stroke="#000" stroke-width="2.2"/><path d="M686.3 1205.6H689.9" stroke="#000" stroke-width="1.6"/>
<path d="M695.8 1186.0V1184.3" stroke="#000" stroke-width="2.2"/><path d="M694.0 1184.1H697.6" stroke="#000" stroke-width="1.6"/>
<rect x="705.4" y="1175" width="7.2" height="39.9" fill="#000"/>
<rect x="712.6" y="1143.4" width="8.1" height="71.5" fill="#a3a3a3"/><path d="M712.65 1144.9V1213.9" stroke="#fff" stroke-width="1.7" stroke-dasharray="3.2 1.8" stroke-dashoffset="0.0"/><path d="M720.65 1144.9V1213.9" stroke="#fff" stroke-width="1.7" stroke-dasharray="3.2 1.8" stroke-dashoffset="2.5"/>
<path d="M709.0 1176.0V1173.3" stroke="#000" stroke-width="2.2"/><path d="M707.2 1173.1H710.8" stroke="#000" stroke-width="1.6"/>
<path d="M716.7 1144.4V1138.0" stroke="#000" stroke-width="2.2"/><path d="M714.9 1137.8H718.5" stroke="#000" stroke-width="1.6"/>
<path d="M453.6 1036.2V1214.9M452.6 1214.9H722.5M449 1214.9H453.6M449 1155.3H453.6M449 1095.8H453.6M449 1036.2H453.6M463.8 1214.9V1220.6M484.3 1214.9V1220.6M505.4 1214.9V1220.6M525.9 1214.9V1220.6M546.5 1214.9V1220.6M567.0 1214.9V1220.6M588.4 1214.9V1220.6M608.9 1214.9V1220.6M629.5 1214.9V1220.6M650.0 1214.9V1220.6M671.5 1214.9V1220.6M691.6 1214.9V1220.6M712.5 1214.9V1220.6" stroke="#111" stroke-width="1.7" fill="none"/>
<g font-family='"Liberation Sans", sans-serif' font-size="13.4" font-weight="bold" fill="#111" stroke="#111" stroke-width="0.3" text-anchor="end">
<text x="445.5" y="1218.8">0</text>
<text x="445.5" y="1159.2">5</text>
<text x="445.5" y="1099.7">10</text>
<text x="445.5" y="1040.1">15</text>
</g>
<path d="M455.0 1089.3H479.4" stroke="#111" stroke-width="1.5" fill="none"/><path d="M458.5 1087.0V1090.5M457.5 1090.7L456.4 1092.3M459.5 1090.7L460.6 1092.3M464.3 1087.0V1090.5M463.3 1090.7L462.2 1092.3M465.3 1090.7L466.4 1092.3M470.1 1087.0V1090.5M469.1 1090.7L468.0 1092.3M471.1 1090.7L472.2 1092.3M475.9 1087.0V1090.5M474.9 1090.7L473.8 1092.3M476.9 1090.7L478.0 1092.3" stroke="#111" stroke-width="1.4" fill="none"/>
<path d="M472.8 1132.6H497.2" stroke="#111" stroke-width="1.5" fill="none"/><path d="M476.3 1130.3V1133.8M475.3 1134.0L474.2 1135.6M477.3 1134.0L478.4 1135.6M482.1 1130.3V1133.8M481.1 1134.0L480.0 1135.6M483.1 1134.0L484.2 1135.6M487.9 1130.3V1133.8M486.9 1134.0L485.8 1135.6M488.9 1134.0L490.0 1135.6M493.7 1130.3V1133.8M492.7 1134.0L491.6 1135.6M494.7 1134.0L495.8 1135.6" stroke="#111" stroke-width="1.4" fill="none"/>
<path d="M493.2 1038.5H517.6" stroke="#111" stroke-width="1.5" fill="none"/><path d="M496.7 1036.2V1039.7M495.7 1039.9L494.6 1041.5M497.7 1039.9L498.8 1041.5M502.5 1036.2V1039.7M501.5 1039.9L500.4 1041.5M503.5 1039.9L504.6 1041.5M508.3 1036.2V1039.7M507.3 1039.9L506.2 1041.5M509.3 1039.9L510.4 1041.5M514.1 1036.2V1039.7M513.1 1039.9L512.0 1041.5M515.1 1039.9L516.2 1041.5" stroke="#111" stroke-width="1.4" fill="none"/>
<path d="M533.8 1132.6H558.2" stroke="#111" stroke-width="1.5" fill="none"/><path d="M537.3 1130.3V1133.8M536.3 1134.0L535.2 1135.6M538.3 1134.0L539.4 1135.6M543.1 1130.3V1133.8M542.1 1134.0L541.0 1135.6M544.1 1134.0L545.2 1135.6M548.9 1130.3V1133.8M547.9 1134.0L546.8 1135.6M549.9 1134.0L551.0 1135.6M554.7 1130.3V1133.8M553.7 1134.0L552.6 1135.6M555.7 1134.0L556.8 1135.6" stroke="#111" stroke-width="1.4" fill="none"/>
<path d="M555.3 1150.3H579.7" stroke="#111" stroke-width="1.5" fill="none"/><path d="M558.8 1148.0V1151.5M557.8 1151.7L556.7 1153.3M559.8 1151.7L560.9 1153.3M564.6 1148.0V1151.5M563.6 1151.7L562.5 1153.3M565.6 1151.7L566.7 1153.3M570.4 1148.0V1151.5M569.4 1151.7L568.3 1153.3M571.4 1151.7L572.5 1153.3M576.2 1148.0V1151.5M575.2 1151.7L574.1 1153.3M577.2 1151.7L578.3 1153.3" stroke="#111" stroke-width="1.4" fill="none"/>
<path d="M576.7 1089.3H595.3" stroke="#111" stroke-width="1.5" fill="none"/><path d="M580.2 1087.0V1090.5M579.2 1090.7L578.1 1092.3M581.2 1090.7L582.3 1092.3M586.0 1087.0V1090.5M585.0 1090.7L583.9 1092.3M587.0 1090.7L588.1 1092.3M591.8 1087.0V1090.5M590.8 1090.7L589.7 1092.3M592.8 1090.7L593.9 1092.3" stroke="#111" stroke-width="1.4" fill="none"/>
<path d="M599.5 1135.2H618.1" stroke="#111" stroke-width="1.5" fill="none"/><path d="M603.0 1132.9V1136.4M602.0 1136.6L600.9 1138.2M604.0 1136.6L605.1 1138.2M608.8 1132.9V1136.4M607.8 1136.6L606.7 1138.2M609.8 1136.6L610.9 1138.2M614.6 1132.9V1136.4M613.6 1136.6L612.5 1138.2M615.6 1136.6L616.7 1138.2" stroke="#111" stroke-width="1.4" fill="none"/>
<path d="M616.8 1175.7H641.2" stroke="#111" stroke-width="1.5" fill="none"/><path d="M620.3 1173.4V1176.9M619.3 1177.1L618.2 1178.7M621.3 1177.1L622.4 1178.7M626.1 1173.4V1176.9M625.1 1177.1L624.0 1178.7M627.1 1177.1L628.2 1178.7M631.9 1173.4V1176.9M630.9 1177.1L629.8 1178.7M632.9 1177.1L634.0 1178.7M637.7 1173.4V1176.9M636.7 1177.1L635.6 1178.7M638.7 1177.1L639.8 1178.7" stroke="#111" stroke-width="1.4" fill="none"/>
<path d="M638.2 1188.7H662.6" stroke="#111" stroke-width="1.5" fill="none"/><path d="M641.7 1186.4V1189.9M640.7 1190.1L639.6 1191.7M642.7 1190.1L643.8 1191.7M647.5 1186.4V1189.9M646.5 1190.1L645.4 1191.7M648.5 1190.1L649.6 1191.7M653.3 1186.4V1189.9M652.3 1190.1L651.2 1191.7M654.3 1190.1L655.4 1191.7M659.1 1186.4V1189.9M658.1 1190.1L657.0 1191.7M660.1 1190.1L661.2 1191.7" stroke="#111" stroke-width="1.4" fill="none"/>
<path d="M664.6 1171.5H677.4" stroke="#111" stroke-width="1.5" fill="none"/><path d="M668.1 1169.2V1172.7M667.1 1172.9L666.0 1174.5M669.1 1172.9L670.2 1174.5M673.9 1169.2V1172.7M672.9 1172.9L671.8 1174.5M674.9 1172.9L676.0 1174.5" stroke="#111" stroke-width="1.4" fill="none"/>
<path d="M677.0 1148.6H701.4" stroke="#111" stroke-width="1.5" fill="none"/><path d="M680.5 1146.3V1149.8M679.5 1150.0L678.4 1151.6M681.5 1150.0L682.6 1151.6M686.3 1146.3V1149.8M685.3 1150.0L684.2 1151.6M687.3 1150.0L688.4 1151.6M692.1 1146.3V1149.8M691.1 1150.0L690.0 1151.6M693.1 1150.0L694.2 1151.6M697.9 1146.3V1149.8M696.9 1150.0L695.8 1151.6M698.9 1150.0L700.0 1151.6" stroke="#111" stroke-width="1.4" fill="none"/>
<path d="M703.0 1119.4H721.6" stroke="#111" stroke-width="1.5" fill="none"/><path d="M706.5 1117.1V1120.6M705.5 1120.8L704.4 1122.4M707.5 1120.8L708.6 1122.4M712.3 1117.1V1120.6M711.3 1120.8L710.2 1122.4M713.3 1120.8L714.4 1122.4M718.1 1117.1V1120.6M717.1 1120.8L716.0 1122.4M719.1 1120.8L720.2 1122.4" stroke="#111" stroke-width="1.4" fill="none"/>
<g font-family='"Liberation Sans", sans-serif' font-size="12.7" font-weight="bold" fill="#111" text-anchor="end">
<text transform="translate(465.3,1230.1) rotate(-45)">Pro</text>
<text transform="translate(485.8,1230.1) rotate(-45)">Val</text>
<text transform="translate(506.9,1230.1) rotate(-45)">Thr</text>
<text transform="translate(527.4,1230.1) rotate(-45)">Leu</text>
<text transform="translate(548.0,1230.1) rotate(-45)">Met</text>
<text transform="translate(568.5,1230.1) rotate(-45)">Phe</text>
<text transform="translate(589.9,1230.1) rotate(-45)">Arg</text>
<text transform="translate(610.4,1230.1) rotate(-45)">Tyr</text>
<text transform="translate(631.0,1230.1) rotate(-45)">Orn</text>
<text transform="translate(651.5,1230.1) rotate(-45)">Me-His</text>
<text transform="translate(673.0,1230.1) rotate(-45)">Trp</text>
<text transform="translate(693.1,1230.1) rotate(-45)">Car</text>
<text transform="translate(714.0,1230.1) rotate(-45)">βa</text>
</g>
<text x="549" y="1283" font-family='"Liberation Sans", sans-serif' font-size="15.2" font-weight="bold" fill="#111" stroke="#111" stroke-width="0.4" textLength="75.3" lengthAdjust="spacingAndGlyphs">Compound</text>
</svg>
</body></html>
